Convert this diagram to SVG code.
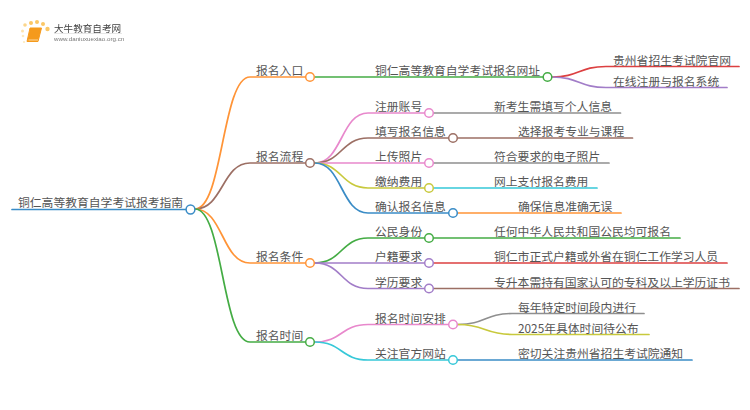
<svg xmlns="http://www.w3.org/2000/svg" width="750" height="410" viewBox="0 0 750 410">
<style>
text{font-family:"Noto Sans CJK SC","Liberation Sans",sans-serif;font-size:11.800px;fill:#555}
.l{fill:none;stroke-width:1.700;stroke-linecap:round}
.d{stroke:none}
circle{fill:#fff;stroke-width:1.500}
.b{stroke:#3a8cc6}.o{stroke:#ff9437}.g{stroke:#44ac44}.r{stroke:#dc4041}.p{stroke:#a27dc8}.n{stroke:#9c6f64}.k{stroke:#e888cc}.y{stroke:#8f8f8f}.v{stroke:#c8c93c}.c{stroke:#36c8d8}
</style>
<defs><filter id="soft" x="-5%" y="-10%" width="110%" height="120%"><feGaussianBlur stdDeviation="0.400"/></filter></defs>
<rect width="750" height="410" fill="#fff"/>
<g id="logo" filter="url(#soft)">
<circle class="d" cx="25" cy="25" r="1.800" style="fill:#fbd68c"/><circle class="d" cx="22.500" cy="31" r="1.500" style="fill:#fde3ad"/><circle class="d" cx="23" cy="36" r="1.300" style="fill:#fdeac0"/><circle class="d" cx="24" cy="42" r="1.100" style="fill:#fdeac0"/><circle class="d" cx="31" cy="23" r="2" style="fill:#fbc766"/><circle class="d" cx="37" cy="22" r="2" style="fill:#fbc766"/><circle class="d" cx="43" cy="24" r="2" style="fill:#fbc766"/><circle class="d" cx="47.500" cy="29" r="2.200" style="fill:#fbc766"/>
<path d="M30 28H41.500L38 41.500H27Z" fill="#f59a1c" stroke="#f59a1c" stroke-linejoin="round"/>
<path d="M28.500 40H38" stroke="#fbd9a0" stroke-width="1"/>
<text x="54" y="31.500" style="font-size:9.600px;fill:#444">大牛教育自考网</text>
<path d="M54 33.500H122" stroke="#ddd" stroke-width=".7"/>
<text x="54" y="41" style="font-family:'Liberation Sans',sans-serif;font-size:6.200px;fill:#777">www.daniuxuexiao.org.cn</text>
</g>
<g id="connectors">
<path class="l b" d="M12 209.500H186"/>
<path class="l o" d="M195 209C223 209 222 77 250 77H305"/>
<path class="l n" d="M195 209C223 209 222 163 250 163H305"/>
<path class="l o" d="M195 209C223 209 222 263 250 263H305"/>
<path class="l g" d="M195 209C223 209 222 342 250 342H305"/>
<path class="l g" d="M315 77H543"/>
<path class="l r" d="M552 77C579 77 579 66.500 606 66.500H739"/>
<path class="l p" d="M552 77C579 77 579 87.500 606 87.500H727"/>
<path class="l k" d="M315 163C342 163 341 113 368 113H424"/>
<path class="l n" d="M315 163C342 163 341 138 368 138H448"/>
<path class="l k" d="M315 163H424"/>
<path class="l v" d="M315 163C342 163 341 188 368 188H424"/>
<path class="l b" d="M315 163C342 163 341 213 368 213H448"/>
<path class="l g" d="M315 263C342 263 341 238 368 238H424"/>
<path class="l p" d="M315 263H424"/>
<path class="l p" d="M315 263C342 263 341 288.500 368 288.500H424"/>
<path class="l k" d="M315 342C342 342 341 324.500 368 324.500H448"/>
<path class="l c" d="M315 342C342 342 341 360 368 360H448"/>
<path class="l y" d="M434 113H620.500"/>
<path class="l n" d="M458 138H632.500"/>
<path class="l y" d="M434 163H609"/>
<path class="l c" d="M434 188H597"/>
<path class="l o" d="M458 213H621"/>
<path class="l g" d="M434 238H680"/>
<path class="l r" d="M434 263H727"/>
<path class="l n" d="M434 288.500H739"/>
<path class="l y" d="M458 324.500C485 324.500 485 313.500 512 313.500H644"/>
<path class="l v" d="M458 324.500C485 324.500 485 334.500 512 334.500H649"/>
<path class="l b" d="M458 360H692"/>
</g>
<g id="root"><text x="18" y="207">铜仁高等教育自学考试报考指南</text><circle class="b" cx="190.500" cy="209.500" r="4.400"/></g>
<g id="n1"><text x="256" y="75">报名入口</text><circle class="o" cx="310" cy="77" r="4.300"/></g>
<g id="n2"><text x="256" y="161">报名流程</text><circle class="n" cx="310" cy="163" r="4.300"/></g>
<g id="n3"><text x="256" y="261">报名条件</text><circle class="o" cx="310" cy="263" r="4.300"/></g>
<g id="n4"><text x="256" y="340">报名时间</text><circle class="g" cx="310" cy="342" r="4.300"/></g>
<g id="n1-1"><text x="375" y="75">铜仁高等教育自学考试报名网址</text><circle class="g" cx="547.500" cy="77" r="4.300"/></g>
<g id="n1-1-1"><text x="613" y="64.500">贵州省招生考试院官网</text></g>
<g id="n1-1-2"><text x="613" y="85.500">在线注册与报名系统</text></g>
<g id="n2-1"><text x="375" y="111">注册账号</text><circle class="k" cx="429" cy="113" r="4.300"/></g>
<g id="n2-1-1"><text x="494" y="111">新考生需填写个人信息</text></g>
<g id="n2-2"><text x="375" y="136">填写报名信息</text><circle class="n" cx="453" cy="138" r="4.300"/></g>
<g id="n2-2-1"><text x="518" y="136">选择报考专业与课程</text></g>
<g id="n2-3"><text x="375" y="161">上传照片</text><circle class="k" cx="429" cy="163" r="4.300"/></g>
<g id="n2-3-1"><text x="494" y="161">符合要求的电子照片</text></g>
<g id="n2-4"><text x="375" y="186">缴纳费用</text><circle class="v" cx="429" cy="188" r="4.300"/></g>
<g id="n2-4-1"><text x="494" y="186">网上支付报名费用</text></g>
<g id="n2-5"><text x="375" y="211">确认报名信息</text><circle class="b" cx="453" cy="213" r="4.300"/></g>
<g id="n2-5-1"><text x="518" y="211">确保信息准确无误</text></g>
<g id="n3-1"><text x="375" y="236">公民身份</text><circle class="g" cx="429" cy="238" r="4.300"/></g>
<g id="n3-1-1"><text x="494" y="236">任何中华人民共和国公民均可报名</text></g>
<g id="n3-2"><text x="375" y="261">户籍要求</text><circle class="p" cx="429" cy="263" r="4.300"/></g>
<g id="n3-2-1"><text x="494" y="261">铜仁市正式户籍或外省在铜仁工作学习人员</text></g>
<g id="n3-3"><text x="375" y="286.500">学历要求</text><circle class="p" cx="429" cy="288.500" r="4.300"/></g>
<g id="n3-3-1"><text x="494" y="286.500">专升本需持有国家认可的专科及以上学历证书</text></g>
<g id="n4-1"><text x="375" y="322.500">报名时间安排</text><circle class="k" cx="453" cy="324.500" r="4.300"/></g>
<g id="n4-1-1"><text x="518" y="311.500">每年特定时间段内进行</text></g>
<g id="n4-1-2"><text x="518" y="332.500">2025年具体时间待公布</text></g>
<g id="n4-2"><text x="375" y="358">关注官方网站</text><circle class="c" cx="453" cy="360" r="4.300"/></g>
<g id="n4-2-1"><text x="518" y="358">密切关注贵州省招生考试院通知</text></g>
</svg>
